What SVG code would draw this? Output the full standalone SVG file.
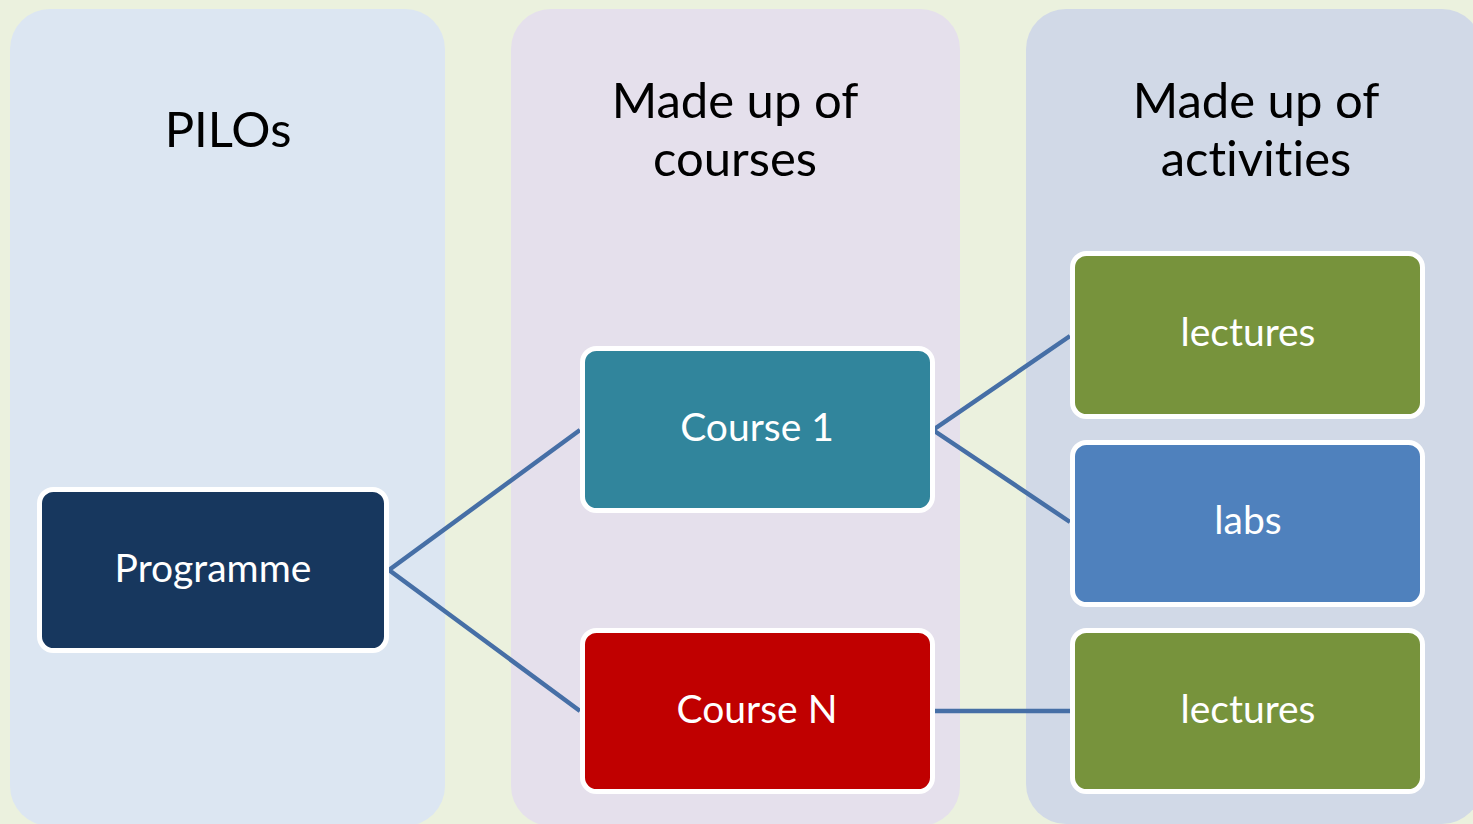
<svg xmlns="http://www.w3.org/2000/svg" width="1473" height="824" viewBox="0 0 1473 824">
<style>
.col{stroke:none}
.hdr{font-family:Lato,"Open Sans","Liberation Sans",sans-serif;font-size:49px;fill:#000;text-anchor:middle;font-variant-ligatures:none}
.box{stroke:#fff;stroke-width:5}
.lbl{font-family:Lato,"Open Sans","Liberation Sans",sans-serif;font-size:39px;fill:#fff;text-anchor:middle;dominant-baseline:central;font-variant-ligatures:none}
.con{stroke:#466FA6;stroke-width:4.5;fill:none}
</style>
<rect width="1473" height="824" fill="#EBF1DE"/>
<g id="columns">
<rect class="col" x="10" y="9" width="435" height="817" rx="40" fill="#DCE6F2"/>
<rect class="col" x="511" y="9" width="449" height="817" rx="40" fill="#E5E0EC"/>
<rect class="col" x="1026" y="9" width="456" height="815" rx="40" fill="#D1D9E7"/>
<text class="hdr" x="228" y="147">PILOs</text>
<text class="hdr" x="735" y="118">Made up of</text>
<text class="hdr" x="735" y="176">courses</text>
<text class="hdr" x="1256" y="118">Made up of</text>
<text class="hdr" x="1256" y="176">activities</text>
</g>
<g id="connectors">
<polyline class="con" points="580,430 389,570 580,711"/>
<polyline class="con" points="1070,336 933,430 1070,522"/>
<line class="con" x1="933" y1="711" x2="1070" y2="711"/>
</g>
<g id="programme">
<rect class="box" x="39.5" y="489.5" width="347" height="161" rx="14" fill="#17375E"/>
<text class="lbl" x="213" y="567">Programme</text>
</g>
<g id="course1">
<rect class="box" x="582.5" y="348.5" width="350" height="162" rx="14" fill="#31859C"/>
<text class="lbl" x="757" y="426">Course 1</text>
</g>
<g id="courseN">
<rect class="box" x="582.5" y="630.5" width="350" height="161" rx="14" fill="#C00000"/>
<text class="lbl" x="757" y="708">Course N</text>
</g>
<g id="lectures1">
<rect class="box" x="1072.5" y="253.5" width="350" height="163" rx="14" fill="#77933C"/>
<text class="lbl" x="1248" y="331">lectures</text>
</g>
<g id="labs">
<rect class="box" x="1072.5" y="442.5" width="350" height="162" rx="14" fill="#4F81BD"/>
<text class="lbl" x="1248" y="519">labs</text>
</g>
<g id="lectures2">
<rect class="box" x="1072.5" y="630.5" width="350" height="161" rx="14" fill="#77933C"/>
<text class="lbl" x="1248" y="708">lectures</text>
</g>
</svg>
